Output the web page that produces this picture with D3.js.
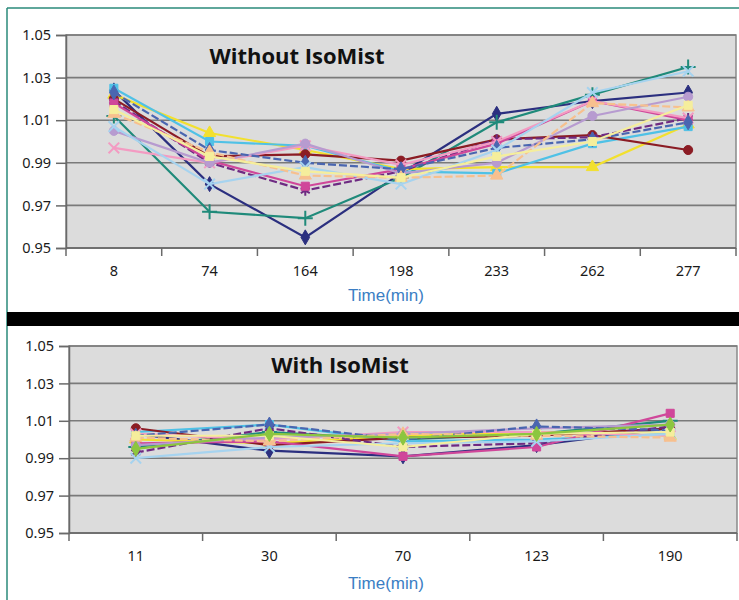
<!DOCTYPE html>
<html>
<head>
<meta charset="utf-8">
<script src="https://cdn.jsdelivr.net/npm/d3@7"></script>
<style>
  body { margin: 0; background: #fff; }
  svg { display: block; }
</style>
</head>
<body>
<svg id="chart"></svg>
<script>
// categories (minutes)
var timesWithout = ["8", "74", "164", "198", "233", "262", "277"];
var timesWith = ["11", "30", "70", "123", "190"];
var yTicks = [0.95, 0.97, 0.99, 1.01, 1.03, 1.05];

// series colors / markers (shared by both panels)
var seriesColors = ["#2b2f7f", "#1f8a7a", "#f2e02e", "#4fc1e6", "#8b1c24", "#6e2a82", "#d0479a", "#f39bc2",
                    "#b79bd0", "#4a66b0", "#a6d3ef", "#f7c08e", "#f5ee9c", "#8cc63f"];
var seriesMarkers = ["diamond", "plus", "triangle", "square", "circle", "asterisk", "square", "times",
                     "circle", "diamond", "times", "triangle", "square", "diamond"];
var seriesDashed = [false, false, false, false, false, true, false, false, false, true, false, true, false, false];

// values without IsoMist (times 8..277)
var w1  = [1.024, 0.980, 0.955, 0.985, 1.013, 1.019, 1.023];
var w2  = [1.012, 0.967, 0.964, 0.983, 1.009, 1.022, 1.035];
var w3  = [1.022, 1.004, 0.996, 0.987, 0.988, 0.988, 1.008];
var w4  = [1.025, 1.000, 0.998, 0.986, 0.985, 0.999, 1.007];
var w5  = [1.020, 0.993, 0.994, 0.991, 1.001, 1.003, 0.996];
var w6  = [1.019, 0.990, 0.977, 0.986, 1.001, 1.002, 1.011];
var w7  = [1.018, 0.991, 0.979, 0.987, 0.999, 1.019, 1.010];
var w8  = [0.997, 0.990, 0.998, 0.989, 1.000, 1.019, 1.011];
var w9  = [1.005, 0.990, 0.999, 0.985, 0.990, 1.012, 1.021];
var w10 = [1.023, 0.996, 0.990, 0.987, 0.997, 1.001, 1.009];
var w11 = [1.007, 0.980, 0.988, 0.980, 0.996, 1.023, 1.033];
var w12 = [1.013, 0.995, 0.984, 0.983, 0.984, 1.018, 1.016];
var w13 = [1.015, 0.993, 0.986, 0.983, 0.993, 1.000, 1.017];
var valuesWithout = [w1, w2, w3, w4, w5, w6, w7, w8, w9, w10, w11, w12, w13];

// values with IsoMist (times 11..190)
var m1  = [1.003, 0.994, 0.991, 0.997, 1.006];
var m2  = [0.996, 1.004, 1.000, 1.003, 1.010];
var m3  = [1.000, 0.998, 1.002, 1.004, 1.002];
var m4  = [1.004, 1.008, 0.999, 1.000, 1.003];
var m5  = [1.006, 0.997, 1.001, 1.002, 1.006];
var m6  = [0.993, 1.006, 0.996, 0.998, 1.007];
var m7  = [0.998, 0.999, 0.991, 0.996, 1.014];
var m8  = [1.003, 1.000, 1.004, 1.004, 1.002];
var m9  = [0.997, 1.001, 1.003, 1.006, 1.008];
var m10 = [1.002, 1.008, 1.000, 1.007, 1.005];
var m11 = [0.990, 0.996, 0.998, 0.999, 1.003];
var m12 = [1.001, 0.999, 1.003, 1.002, 1.001];
var m13 = [1.002, 1.002, 0.996, 1.003, 1.004];
var m14 = [0.995, 1.003, 1.001, 1.003, 1.008];
var valuesWith = [m1, m2, m3, m4, m5, m6, m7, m8, m9, m10, m11, m12, m13, m14];

var symbolTypes = {
  diamond: d3.symbolDiamond, plus: d3.symbolPlus, triangle: d3.symbolTriangle,
  square: d3.symbolSquare, circle: d3.symbolCircle, asterisk: d3.symbolAsterisk, times: d3.symbolTimes
};

var svg = d3.select("#chart").attr("width", 739).attr("height", 600);
var frame = "#2a8a7a";

// outer frame + black separator
svg.append("line").attr("x1", 7).attr("x2", 739).attr("y1", 8).attr("y2", 8)
  .attr("stroke", frame).attr("stroke-width", 1.5);
svg.append("line").attr("x1", 7).attr("x2", 7).attr("y1", 8).attr("y2", 600)
  .attr("stroke", frame).attr("stroke-width", 1.5);
svg.append("rect").attr("x", 7).attr("y", 312).attr("width", 732).attr("height", 14).attr("fill", "#000");

function drawPanel(cfg) {
  var x = d3.scaleBand().domain(cfg.times).range([cfg.left, cfg.right]);
  var y = d3.scaleLinear().domain([0.95, 1.05]).range([cfg.bottom, cfg.top]);
  var g = svg.append("g");

  // plot background
  g.append("rect").attr("x", cfg.left).attr("y", cfg.top)
    .attr("width", cfg.right - cfg.left).attr("height", cfg.bottom - cfg.top)
    .attr("fill", "#dcdcdc").attr("stroke", "#8a8a8a").attr("stroke-width", 1.5);

  // gridlines
  g.selectAll(".grid").data(yTicks).enter().append("line")
    .attr("x1", cfg.left).attr("x2", cfg.right)
    .attr("y1", d => y(d)).attr("y2", d => y(d))
    .attr("stroke", "#7a7a7a").attr("stroke-width", 1.6);

  // y axis
  var yAxis = g.append("g").attr("transform", `translate(${cfg.left},0)`)
    .call(d3.axisLeft(y).tickValues(yTicks).tickFormat(d3.format(".2f")).tickSize(10).tickPadding(5));
  yAxis.select(".domain").attr("stroke", "#6a6a6a").attr("stroke-width", 1.5);
  yAxis.selectAll(".tick line").attr("stroke", "#6a6a6a").attr("stroke-width", 1.5);
  yAxis.selectAll("text").attr("font-family", "Noto Sans, sans-serif").attr("font-size", 14.5).attr("fill", "#1a1a1a");

  // x axis: ticks at category boundaries
  var bounds = cfg.times.map(t => x(t)).concat([cfg.right]);
  g.selectAll(".xtick").data(bounds).enter().append("line")
    .attr("x1", d => d).attr("x2", d => d)
    .attr("y1", cfg.bottom).attr("y2", cfg.bottom + 8)
    .attr("stroke", "#6a6a6a").attr("stroke-width", 1.5);
  g.append("line").attr("x1", cfg.left).attr("x2", cfg.right)
    .attr("y1", cfg.bottom).attr("y2", cfg.bottom)
    .attr("stroke", "#6a6a6a").attr("stroke-width", 1.5);
  g.selectAll(".xlabel").data(cfg.times).enter().append("text")
    .attr("x", d => x(d) + x.bandwidth() / 2).attr("y", cfg.bottom + 28)
    .attr("text-anchor", "middle")
    .attr("font-family", "Noto Sans, sans-serif").attr("font-size", 14.5).attr("fill", "#1a1a1a")
    .text(d => d);

  // title
  g.append("text").attr("x", cfg.titleX).attr("y", cfg.titleY)
    .attr("text-anchor", "middle")
    .attr("font-family", "Open Sans, sans-serif").attr("font-weight", "bold").attr("font-size", 22)
    .attr("fill", "#111").text(cfg.title);

  // axis title
  g.append("text").attr("x", 348).attr("y", cfg.axisTitleY)
    .attr("font-family", "Liberation Sans, Arial, sans-serif").attr("font-size", 17)
    .attr("fill", "#3b7ec4").text("Time(min)");

  // series
  var line = d3.line().x((d, i) => x(cfg.times[i]) + x.bandwidth() / 2).y(d => y(d));
  cfg.values.forEach(function(vals, s) {
    var col = seriesColors[s];
    g.append("path").datum(vals)
      .attr("d", line).attr("fill", "none")
      .attr("stroke", col).attr("stroke-width", 2.2)
      .attr("stroke-dasharray", seriesDashed[s] ? "8,3" : null);
    var type = seriesMarkers[s];
    var stroked = (type === "plus" || type === "asterisk" || type === "times");
    var sym = d3.symbol().type(symbolTypes[type]).size(stroked ? 75 : 65);
    g.selectAll(null).data(vals).enter().append("path")
      .attr("transform", (d, i) => `translate(${x(cfg.times[i]) + x.bandwidth() / 2},${y(d)})`)
      .attr("d", sym)
      .attr("fill", stroked ? "none" : col)
      .attr("stroke", col).attr("stroke-width", stroked ? 2 : 1);
  });
}

drawPanel({
  times: timesWithout, values: valuesWithout,
  left: 66, right: 736, top: 35, bottom: 248,
  title: "Without IsoMist", titleX: 297, titleY: 64, axisTitleY: 301
});

drawPanel({
  times: timesWith, values: valuesWith,
  left: 69, right: 737, top: 346, bottom: 533,
  title: "With IsoMist", titleX: 340, titleY: 373, axisTitleY: 589
});
</script>
</body>
</html>
